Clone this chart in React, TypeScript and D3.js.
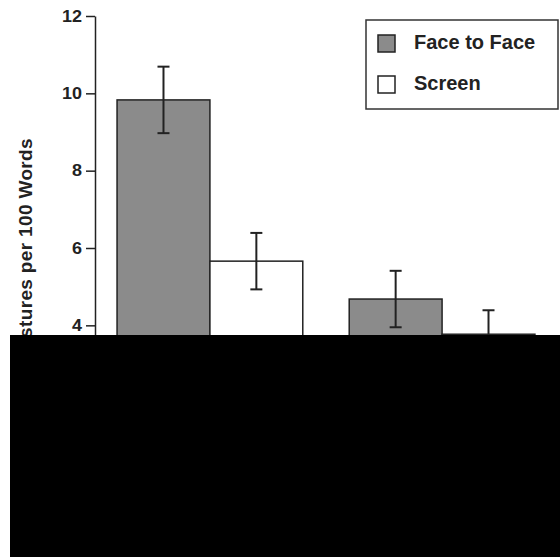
import React, { useEffect, useRef } from "react";
import * as d3 from "d3";

// gesture rates
const categories = ["Representational", "Beat"];
const conditions = ["Face to Face", "Screen"];
const faceToFace = [9.83, 4.68];
const faceToFaceErr = [0.86, 0.73];
const screen = [5.66, 3.77];
const screenErr = [0.73, 0.62];
const yTicks = [0, 2, 4, 6, 8, 10, 12];

const W = 560;
const H = 557;
const font = "'Liberation Sans', Arial, Helvetica, sans-serif";
const gray = "#8b8b8b";
const ink = "#222";

const App = () => {
  const ref = useRef<SVGSVGElement>(null);

  useEffect(() => {
    if (!ref.current) return;
    const svg = d3.select(ref.current);
    svg.selectAll("*").remove();

    const y = d3.scaleLinear().domain([0, 12]).range([480, 16]);
    const x = d3.scaleBand().domain(categories).range([95, 557])
      .paddingInner(0.2).paddingOuter(0.095);
    const xc = d3.scaleBand().domain(conditions).range([0, x.bandwidth()]);
    const fills: Record<string, string> = { "Face to Face": gray, "Screen": "#fff" };

    const rows = categories.flatMap((c, i) => [
      { cat: c, cond: conditions[0], v: faceToFace[i], e: faceToFaceErr[i] },
      { cat: c, cond: conditions[1], v: screen[i], e: screenErr[i] },
    ]);

    // bars
    svg.append("g").selectAll("rect").data(rows).join("rect")
      .attr("x", d => x(d.cat)! + xc(d.cond)!)
      .attr("y", d => y(d.v))
      .attr("width", xc.bandwidth())
      .attr("height", d => y(0) - y(d.v))
      .attr("fill", d => fills[d.cond])
      .attr("stroke", ink)
      .attr("stroke-width", 1.5);

    // error bars
    const eb = svg.append("g").attr("stroke", ink).attr("stroke-width", 2);
    rows.forEach(d => {
      const cx = x(d.cat)! + xc(d.cond)! + xc.bandwidth() / 2;
      eb.append("line").attr("x1", cx).attr("x2", cx)
        .attr("y1", y(d.v + d.e)).attr("y2", y(d.v - d.e));
      [d.v + d.e, d.v - d.e].forEach(v => {
        eb.append("line").attr("x1", cx - 6).attr("x2", cx + 6)
          .attr("y1", y(v)).attr("y2", y(v));
      });
    });

    // y axis
    const axis = svg.append("g")
      .attr("transform", "translate(95,0)")
      .call(d3.axisLeft(y).tickValues(yTicks).tickSize(9).tickSizeOuter(0).tickPadding(4));
    axis.select(".domain").attr("stroke", ink).attr("stroke-width", 1.5);
    axis.selectAll(".tick line").attr("stroke", ink).attr("stroke-width", 1.5);
    axis.selectAll(".tick text")
      .attr("fill", ink)
      .attr("transform", "scale(1,0.88)")
      .style("font", `bold 18px ${font}`);

    svg.append("text")
      .attr("transform", "translate(32,138) rotate(-90)")
      .attr("text-anchor", "end")
      .attr("fill", ink)
      .style("font", `bold 19px ${font}`)
      .style("letter-spacing", "0.35px")
      .text("Gestures per 100 Words");

    // legend
    const lg = svg.append("g");
    lg.append("rect").attr("x", 366).attr("y", 20).attr("width", 192).attr("height", 89)
      .attr("fill", "#fff").attr("stroke", "#333").attr("stroke-width", 1.5);
    conditions.forEach((c, i) => {
      lg.append("rect").attr("x", 378).attr("y", 35 + i * 41).attr("width", 17).attr("height", 17)
        .attr("fill", fills[c]).attr("stroke", ink).attr("stroke-width", 1.5);
      lg.append("text").attr("x", 414).attr("y", 49 + i * 41)
        .attr("fill", ink).style("font", `bold 20px ${font}`).text(c);
    });

    // redacted lower part of the figure
    svg.append("rect").attr("x", 10).attr("y", 335).attr("width", W - 10).attr("height", H - 335)
      .attr("fill", "#000");
  }, []);

  return (
    <svg ref={ref} width={W} height={H}
      style={{ position: "absolute", left: 0, top: 0, background: "#fff" }} />
  );
};

export default App;
